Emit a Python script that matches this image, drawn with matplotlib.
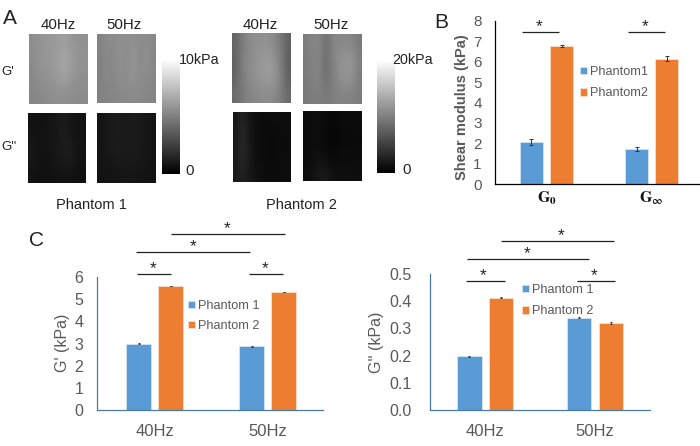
import numpy as np
import matplotlib
matplotlib.use('Agg')
import matplotlib.pyplot as plt

plt.rcParams['font.family'] = ['Liberation Sans', 'DejaVu Sans']
plt.rcParams['mathtext.fontset'] = 'stix'

W, H = 700, 446
GRAY = '#595959'
BLUE = '#5B9BD5'
ORANGE = '#ED7D31'
AXBLUE = '#4A7BA8'

# panel A, gray levels (rows top to bottom, columns left to right)
p1_g1_40 = [[142, 146, 150, 152, 156, 158, 150, 146, 144],
            [140, 146, 150, 152, 158, 170, 156, 148, 146],
            [136, 142, 146, 150, 156, 162, 150, 144, 144],
            [134, 136, 138, 140, 142, 142, 140, 138, 138]]
p1_g1_50 = [[130, 140, 138, 146, 140, 146, 138, 142, 136],
            [128, 138, 132, 146, 136, 152, 136, 144, 134],
            [130, 136, 134, 144, 140, 150, 138, 142, 134],
            [130, 132, 134, 136, 136, 138, 136, 134, 132]]
p1_g2_40 = [[18, 16, 18, 20, 24, 28, 22, 18, 18],
            [22, 18, 20, 20, 22, 30, 24, 20, 18],
            [24, 18, 18, 20, 24, 26, 30, 22, 18],
            [20, 16, 16, 16, 18, 20, 18, 16, 16]]
p1_g2_50 = [[20, 24, 26, 28, 24, 30, 26, 22, 20],
            [20, 24, 26, 28, 26, 28, 24, 22, 20],
            [20, 22, 24, 26, 26, 26, 24, 22, 20],
            [18, 20, 20, 22, 22, 22, 20, 20, 18]]
p2_g1_40 = [[100, 122, 136, 142, 144, 144, 134, 120, 98],
            [98, 124, 138, 146, 150, 156, 148, 124, 92],
            [98, 124, 136, 146, 152, 158, 150, 128, 96],
            [108, 120, 130, 134, 138, 140, 136, 124, 106]]
p2_g1_50 = [[124, 134, 134, 110, 132, 136, 136, 132, 122],
            [122, 132, 134, 106, 130, 142, 150, 150, 126],
            [122, 130, 132, 108, 126, 140, 150, 146, 124],
            [122, 124, 126, 122, 126, 130, 130, 128, 124]]
p2_g2_40 = [[22, 38, 22, 14, 12, 12, 14, 14, 12],
            [24, 44, 24, 14, 12, 10, 10, 12, 12],
            [24, 44, 26, 14, 12, 10, 10, 12, 12],
            [24, 34, 22, 18, 14, 12, 12, 14, 14]]
p2_g2_50 = [[12, 12, 14, 10, 8, 10, 12, 12, 12],
            [10, 12, 12, 8, 6, 8, 10, 10, 10],
            [10, 14, 16, 10, 8, 10, 12, 12, 12],
            [12, 16, 24, 26, 16, 14, 16, 14, 14]]

# panel B
b_cats = [r'$\mathbf{G_0}$', r'$\mathbf{G_{\infty}}$']
b_phantom1 = [2.05, 1.70]
b_phantom2 = [6.78, 6.15]
b_err1 = [0.15, 0.10]
b_err2 = [0.06, 0.12]

# panel C
freqs = ['40Hz', '50Hz']
c1_phantom1 = [3.00, 2.87]
c1_phantom2 = [5.60, 5.33]
c1_err1 = [0.01, 0.02]
c1_err2 = [0.01, 0.01]
c2_phantom1 = [0.197, 0.340]
c2_phantom2 = [0.413, 0.320]
c2_err1 = [0.001, 0.002]
c2_err2 = [0.001, 0.002]

fig = plt.figure(figsize=(W / 100, H / 100), dpi=100)


def px_axes(x0, y0, x1, y1, **kw):
    # rect given in picture pixels, y going down
    return fig.add_axes([x0 / W, 1 - y1 / H, (x1 - x0) / W, (y1 - y0) / H], **kw)


# overlay in pixel coords for labels and the significance lines
ov = px_axes(0, 0, W, H, zorder=5)
ov.set_xlim(0, W)
ov.set_ylim(H, 0)
ov.axis('off')
ov.patch.set_alpha(0)


def show_map(data, x0, y0, x1, y1):
    ax = px_axes(x0, y0, x1, y1)
    ax.imshow(data, cmap='gray', vmin=0, vmax=255, aspect='auto', interpolation='bicubic')
    ax.axis('off')


show_map(p1_g1_40, 29, 34, 87.3, 104)
show_map(p1_g1_50, 97.3, 34, 155.7, 103)
show_map(p1_g2_40, 28, 113, 86, 183)
show_map(p1_g2_50, 97, 113, 155.5, 183)
show_map(p2_g1_40, 232, 33, 290, 103)
show_map(p2_g1_50, 303, 34, 361, 104)
show_map(p2_g2_40, 233, 112.3, 291, 182.3)
show_map(p2_g2_50, 302.5, 111, 360.7, 181)

# colour scales
grad = np.linspace(1, 0, 256).reshape(-1, 1)
for x0, y0, x1, y1 in [(162, 59, 180, 174), (377, 60, 394.5, 173)]:
    cax = px_axes(x0, y0, x1, y1)
    cax.imshow(grad, cmap='gray', vmin=0, vmax=1, aspect='auto')
    cax.axis('off')


def px_text(x, y, s, size=10, ha='center', color='#222222', **kw):
    ov.text(x, y, s, fontsize=size, ha=ha, va='center', color=color, **kw)


px_text(3, 18, 'A', size=15, ha='left')
px_text(441.5, 23, 'B', size=15)
px_text(36.5, 240, 'C', size=15)
for x, s in [(58, '40Hz'), (124, '50Hz'), (260, '40Hz'), (331, '50Hz')]:
    px_text(x, 25, s, size=10.8)
px_text(1, 72, "G'", size=9.5, ha='left')
px_text(1, 147, "G''", size=9.5, ha='left')
px_text(179, 60, '10kPa', size=10.3, ha='left')
px_text(190, 171, '0', size=10.8)
px_text(392, 60, '20kPa', size=10.3, ha='left')
px_text(407, 170, '0', size=10.8)
px_text(91, 205, 'Phantom 1', size=10.5)
px_text(301, 205, 'Phantom 2', size=10.5)


def bars(ax, vals1, vals2, err1, err2, width, offset, labels, capsize):
    x = np.arange(2)
    ek = dict(ecolor='#333333', elinewidth=0.7, capsize=capsize, capthick=0.7)
    b1 = ax.bar(x - offset, vals1, width, color=BLUE, edgecolor='#DCE9F5', linewidth=0.5,
                yerr=err1, error_kw=ek, label=labels[0])
    b2 = ax.bar(x + offset, vals2, width, color=ORANGE, edgecolor='#FBE3D3', linewidth=0.5,
                yerr=err2, error_kw=ek, label=labels[1])
    ax.set_xticks(x)
    ax.tick_params(length=0)
    for side in ['top', 'right']:
        ax.spines[side].set_visible(False)
    return b1, b2


def add_legend(ax, x, y, spacing):
    ax.legend(loc='upper left', bbox_to_anchor=(x, y), bbox_transform=ov.transData,
              frameon=False, fontsize=9.2, labelcolor=GRAY, borderpad=0, borderaxespad=0,
              handlelength=0.55, handleheight=0.55, handletextpad=0.25, labelspacing=spacing)


# panel B
axb = px_axes(495, 21, 699, 184)
bars(axb, b_phantom1, b_phantom2, b_err1, b_err2, 0.224, 0.143, ['Phantom1', 'Phantom2'], 1.5)
axb.set_xlim(-0.49, 1.45)
axb.set_ylim(0, 8)
axb.set_yticks(range(9))
axb.set_xticklabels(b_cats, fontsize=11.5, color='#111111')
axb.tick_params(axis='y', labelsize=11, labelcolor=GRAY, pad=9.5)
axb.tick_params(axis='x', pad=4)
axb.spines['left'].set_linewidth(0.9)
axb.spines['bottom'].set_linewidth(0.9)
add_legend(axb, 580, 66, 0.72)
px_text(462, 107, 'Shear modulus (kPa)', size=10.5, color=GRAY, rotation=90, fontweight='bold')

# panel C, G'
axc1 = px_axes(97.3, 277, 323, 410)
bars(axc1, c1_phantom1, c1_phantom2, c1_err1, c1_err2, 0.226, 0.1416, ['Phantom 1', 'Phantom 2'], 1)
axc1.set_xlim(-0.506, 1.49)
axc1.set_ylim(0, 6)
axc1.set_yticks(range(7))
axc1.tick_params(axis='y', pad=10)

# panel C, G''
axc2 = px_axes(430.3, 274, 650, 410)
bars(axc2, c2_phantom1, c2_phantom2, c2_err1, c2_err2, 0.224, 0.145, ['Phantom 1', 'Phantom 2'], 1)
axc2.set_xlim(-0.5, 1.5)
axc2.set_ylim(0, 0.5)
axc2.set_yticks([0, 0.1, 0.2, 0.3, 0.4, 0.5])
axc2.set_yticklabels(['0.0', '0.1', '0.2', '0.3', '0.4', '0.5'])
axc2.tick_params(axis='y', pad=13.5)

for ax in [axc1, axc2]:
    ax.set_xticklabels(freqs, fontsize=12, color=GRAY)
    ax.tick_params(axis='y', labelsize=11.5, labelcolor=GRAY)
    ax.tick_params(axis='x', pad=10)
    for side in ['left', 'bottom']:
        ax.spines[side].set_color(AXBLUE)
        ax.spines[side].set_linewidth(0.9)
add_legend(axc1, 188, 300, 0.62)
add_legend(axc2, 522, 284, 0.72)
px_text(63, 343, "G' (kPa)", size=11.5, color=GRAY, rotation=90)
px_text(377, 342, "G'' (kPa)", size=11.5, color=GRAY, rotation=90)

# significance lines: x start, x end, y, star x
sig_lines = [(521.7, 558.7, 32, 539), (628, 665, 32, 645),
             (170.7, 285, 234, 227), (136, 250, 251.7, 193),
             (136.7, 170.5, 273.7, 153), (249, 283, 273.7, 265),
             (501, 613.7, 240.7, 560.7), (467.3, 588.7, 259, 527),
             (465.7, 505, 280.7, 483.3), (577, 615, 280.7, 594)]
for x0, x1, y, sx in sig_lines:
    ov.plot([x0, x1], [y, y], color='#222222', lw=0.9, solid_capstyle='butt')
    ov.text(sx, y - 0.5, '*', fontsize=12.5, ha='center', va='baseline', color='#222222')

fig.savefig('out.png', dpi=100)
